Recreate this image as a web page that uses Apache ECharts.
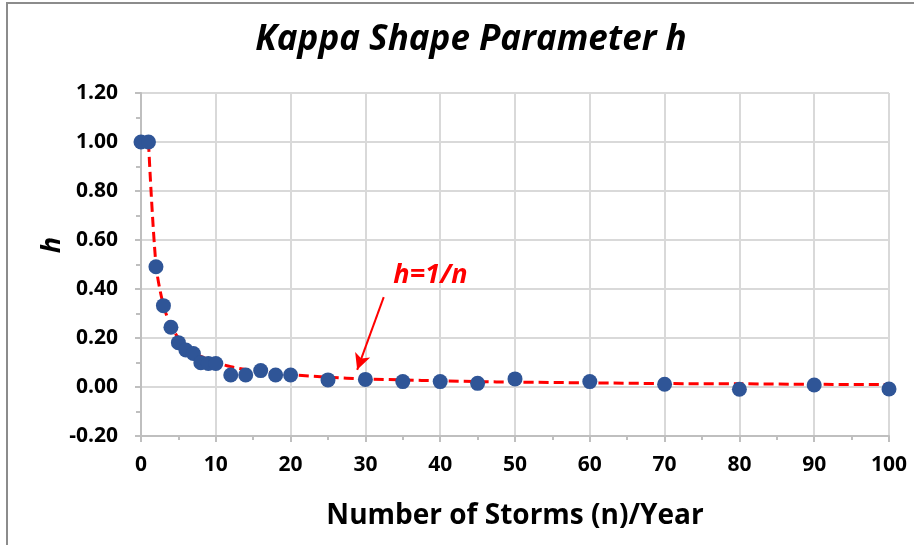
<!DOCTYPE html>
<html>
<head>
<meta charset="utf-8">
<script src="https://cdn.jsdelivr.net/npm/echarts@6/dist/echarts.min.js"></script>
<style>html,body{margin:0;padding:0;background:#fff;}#c{width:914px;height:545px;}</style>
</head>
<body>
<div id="c"></div>
<script>
// Observed points (n, h)
var stormsN = [0,1,2,3,4,5,6,7,8,9,10,12,14,16,18,20,25,30,35,40,45,50,60,70,80,90,100];
var hValues = [1.00,1.00,0.491,0.332,0.244,0.181,0.151,0.137,0.099,0.096,0.096,0.049,0.049,0.067,0.049,0.049,0.029,0.031,0.022,0.022,0.015,0.033,0.022,0.011,-0.009,0.008,-0.008];
// Fitted curve h = 1/n values read at plotted n
var fitN = [1,2,3,4,5,6,7,8,9,10,12,14,16,18,20,25,30,35,40,45,50,60,70,80,90,100];
var fitH = [1.000,0.500,0.333,0.250,0.200,0.167,0.143,0.125,0.111,0.100,0.083,0.071,0.063,0.056,0.050,0.040,0.033,0.029,0.025,0.022,0.020,0.017,0.014,0.013,0.011,0.010];
var xTicks = {min:0, max:100, interval:10};
var yTicks = {min:-0.2, max:1.2, interval:0.2};

function zip(a,b){var r=[];for(var i=0;i<a.length;i++)r.push([a[i],b[i]]);return r;}

var font = 'Open Sans';
var chart = echarts.init(document.getElementById('c'), null, {renderer:'canvas'});
chart.setOption({
  backgroundColor:'#fff',
  animation:false,
  title:{
    text:'Kappa Shape Parameter h',
    left:466, top:18, textAlign:'center',
    textStyle:{fontFamily:font,fontSize:35,fontWeight:'bold',fontStyle:'italic',color:'#000'}
  },
  graphic:[
    {type:'rect',shape:{x:7,y:3,width:940,height:600},style:{fill:'none',stroke:'#8c8c8c',lineWidth:2},z:-1},
    {type:'text',x:52,y:245,rotation:Math.PI/2,style:{text:'h',fontFamily:font,fontSize:27,fontWeight:'bold',fontStyle:'italic',fill:'#000',textAlign:'center',textVerticalAlign:'middle'}}
  ],
  grid:{left:141,right:25,top:93,bottom:109},
  xAxis:{
    type:'value', min:xTicks.min, max:xTicks.max, interval:xTicks.interval,
    name:'Number of Storms (n)/Year', nameLocation:'middle', nameGap:66,
    nameTextStyle:{fontFamily:font,fontSize:28,fontWeight:'bold',color:'#000'},
    axisLine:{show:true,onZero:false,lineStyle:{color:'#bfbfbf',width:2}},
    axisTick:{show:true,length:6,lineStyle:{color:'#bfbfbf',width:2}},
    minorTick:{show:true,splitNumber:2,length:4,lineStyle:{color:'#bfbfbf',width:2}},
    axisLabel:{fontFamily:font,fontSize:21,fontWeight:'bold',color:'#000',margin:19},
    splitLine:{show:true,lineStyle:{color:'#d9d9d9',width:2}}
  },
  yAxis:{
    type:'value', min:yTicks.min, max:yTicks.max, interval:yTicks.interval,
    axisLine:{show:true,lineStyle:{color:'#bfbfbf',width:2}},
    axisTick:{show:true,length:6,lineStyle:{color:'#bfbfbf',width:2}},
    minorTick:{show:true,splitNumber:2,length:5,lineStyle:{color:'#bfbfbf',width:2}},
    axisLabel:{fontFamily:font,fontSize:21,fontWeight:'bold',color:'#000',margin:23,
      formatter:function(v){return (Math.abs(v)<1e-9?0:v).toFixed(2);}},
    splitLine:{show:true,lineStyle:{color:'#d9d9d9',width:2}}
  },
  series:[
    {
      type:'line', data:zip(fitN,fitH), smooth:0.3, showSymbol:false, symbol:'none',
      lineStyle:{color:'#ff0000',width:3,type:[10,5]}, z:3,
      markLine:{
        silent:true, symbol:['none','arrow'], symbolSize:[12,16],
        lineStyle:{color:'#ff0000',width:2,type:'solid'},
        label:{show:false},
        data:[[{coord:[32.45,0.367]},{coord:[28.9,0.07]}]]
      },
      markPoint:{
        silent:true, symbol:'circle', symbolSize:0,
        label:{show:true,formatter:'h=1/n',fontFamily:font,fontSize:27,fontWeight:'bold',fontStyle:'italic',color:'#ff0000'},
        data:[{coord:[38.7,0.457]}]
      }
    },
    {
      type:'scatter', data:zip(stormsN,hValues), symbol:'circle', symbolSize:15,
      itemStyle:{color:'#2f5597',opacity:1}, z:4
    }
  ]
});
</script>
</body>
</html>
